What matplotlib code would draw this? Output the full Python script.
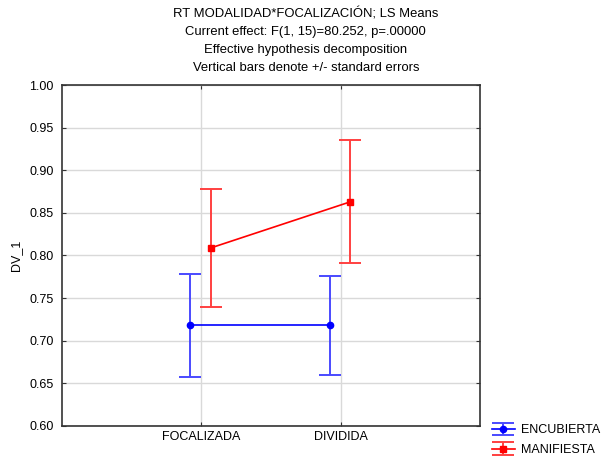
import matplotlib.pyplot as plt

plt.rcParams['font.family'] = ['Liberation Sans', 'DejaVu Sans']

categories = ['FOCALIZADA', 'DIVIDIDA']
groups = ['ENCUBIERTA', 'MANIFIESTA']
means = {
    'ENCUBIERTA': [0.718, 0.718],
    'MANIFIESTA': [0.809, 0.863],
}
std_err = {
    'ENCUBIERTA': [0.060, 0.058],
    'MANIFIESTA': [0.069, 0.072],
}
colors = {'ENCUBIERTA': '#0000ff', 'MANIFIESTA': '#ff0000'}
err_colors = {'ENCUBIERTA': '#4a4aff', 'MANIFIESTA': '#ff4040'}
markers = {'ENCUBIERTA': 'o', 'MANIFIESTA': 's'}
offsets = {'ENCUBIERTA': -0.08, 'MANIFIESTA': 0.07}

fig = plt.figure(figsize=(6.08, 4.57), dpi=100)
ax = fig.add_axes([62 / 608, 1 - 426 / 457, 418 / 608, 341 / 457])

xpos = [1, 2]
handles = []
for g in groups:
    xs = [x + offsets[g] for x in xpos]
    h = ax.errorbar(xs, means[g], yerr=std_err[g], color=colors[g],
                    ecolor=err_colors[g], marker=markers[g], markersize=4.5,
                    linewidth=1.2, elinewidth=1.4, capsize=8, capthick=1.4,
                    zorder=3)
    handles.append(h)

ax.set_xlim(0, 3)
ax.set_ylim(0.6, 1.0)
ax.set_xticks(xpos)
ax.set_xticklabels(categories)
ax.set_yticks([0.60 + 0.05 * i for i in range(9)])
ax.set_yticklabels([f'{0.60 + 0.05 * i:.2f}' for i in range(9)])
ax.grid(True, color='#d9d9d9', linewidth=1.0)
ax.set_axisbelow(True)
ax.tick_params(direction='in', top=True, right=True, length=3,
               labelsize=9, color='#333333')
ax.tick_params(axis='y', pad=6)
for s in ax.spines.values():
    s.set_color('#333333')
    s.set_linewidth(1.2)
ax.set_ylabel('DV_1', fontsize=9)
ax.yaxis.set_label_coords(-0.095, 0.5)

titles = ['RT MODALIDAD*FOCALIZACIÓN; LS Means',
          'Current effect: F(1, 15)=80.252, p=.00000',
          'Effective hypothesis decomposition',
          'Vertical bars denote +/- standard errors']
for i, t in enumerate(titles):
    fig.text(0.503, 1 - (14 + 18 * i) / 457, t, ha='center', va='center',
             fontsize=9.4)

fig.legend(handles, groups, loc='lower left',
           bbox_to_anchor=(484 / 608, -0.014),
           frameon=False, fontsize=9, handlelength=1.9, handletextpad=0.5,
           labelspacing=0.6, borderaxespad=0.2)

fig.savefig('out.png', dpi=100)
